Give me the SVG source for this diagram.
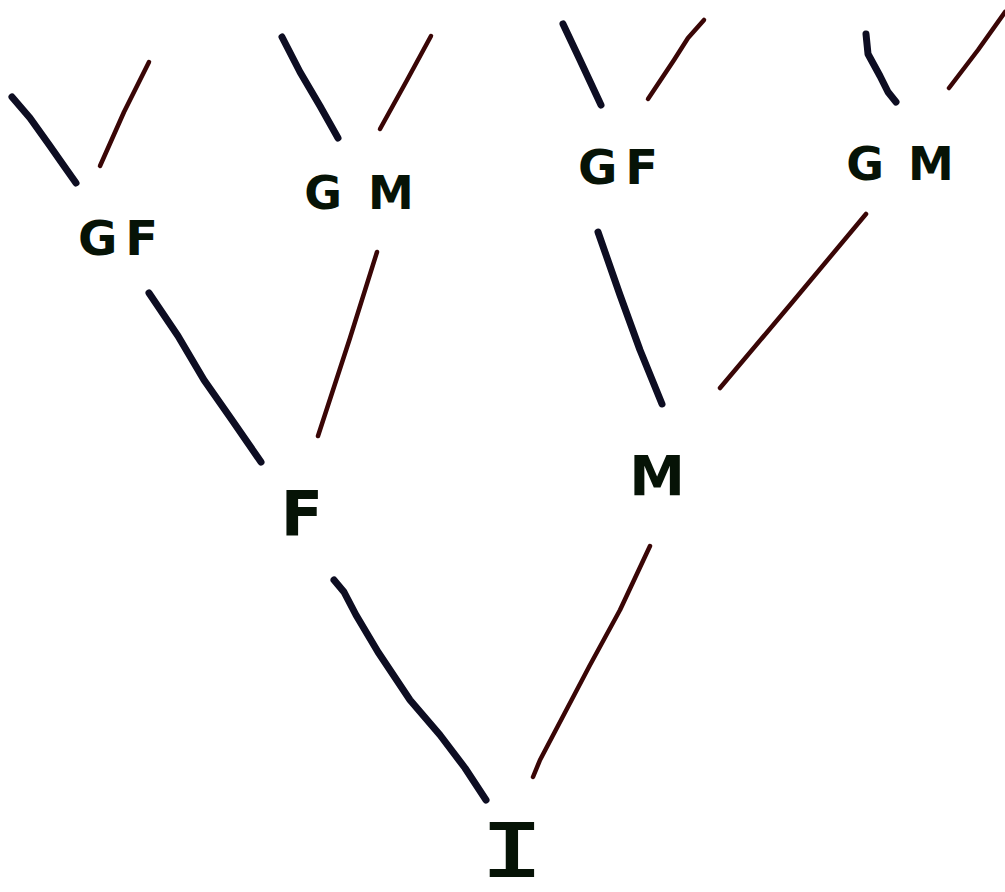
<svg xmlns="http://www.w3.org/2000/svg" width="1005" height="892" viewBox="0 0 1005 892">
<style>
.m{fill:none;stroke:#0d0d22;stroke-width:7;stroke-linecap:round;stroke-linejoin:round}
.f{fill:none;stroke:#3a0606;stroke-width:4.5;stroke-linecap:round;stroke-linejoin:round}
.t{font-family:"DejaVu Sans","Liberation Sans",sans-serif;font-weight:bold;fill:#061306;text-anchor:middle}
.s{font-family:"Liberation Mono","DejaVu Sans Mono",monospace;font-weight:normal;fill:#061306;stroke:#061306;stroke-width:2;text-anchor:middle}
</style>
<rect width="1005" height="892" fill="#ffffff"/>
<g id="connectors">
<path class="m" d="M12,97 L30,118 L50,146 L64,166 L76,183"/>
<path class="f" d="M149,62 L124,112 L100,166"/>
<path class="m" d="M282,37 L300,72 L320,106 L338,138"/>
<path class="f" d="M431,36 L406,82 L380,129"/>
<path class="m" d="M563,24 L580,60 L601,105"/>
<path class="f" d="M704,20 L688,38 L674,60 L648,99"/>
<path class="m" d="M866,34 L868,54 L880,76 L888,92 L896,102"/>
<path class="f" d="M1005,12 L978,50 L949,88"/>
<path class="m" d="M149,293 L178,336 L204,380 L232,420 L261,462"/>
<path class="f" d="M377,252 L350,338 L318,436"/>
<path class="m" d="M598,232 L620,295 L640,350 L662,404"/>
<path class="f" d="M866,214 L790,305 L720,388"/>
<path class="m" d="M334,580 L344,592 L356,615 L378,652 L410,700 L440,735 L465,768 L486,800"/>
<path class="f" d="M650,546 L620,610 L590,665 L560,722 L540,760 L533,777"/>
</g>
<g id="gf1"><text class="t" x="122" y="255" font-size="48" letter-spacing="8">GF</text></g>
<g id="gm1"><text class="t" x="372" y="209" font-size="46" letter-spacing="26">GM</text></g>
<g id="gf2"><text class="t" x="622" y="184" font-size="48" letter-spacing="8">GF</text></g>
<g id="gm2"><text class="t" x="912" y="180" font-size="46" letter-spacing="24">GM</text></g>
<g id="f"><text class="t" x="302" y="535" font-size="62">F</text></g>
<g id="m"><text class="t" x="657" y="495" font-size="56">M</text></g>
<g id="i"><text class="s" transform="translate(512,876) scale(1.3,1)" x="0" y="0" font-size="80">I</text></g>
</svg>
